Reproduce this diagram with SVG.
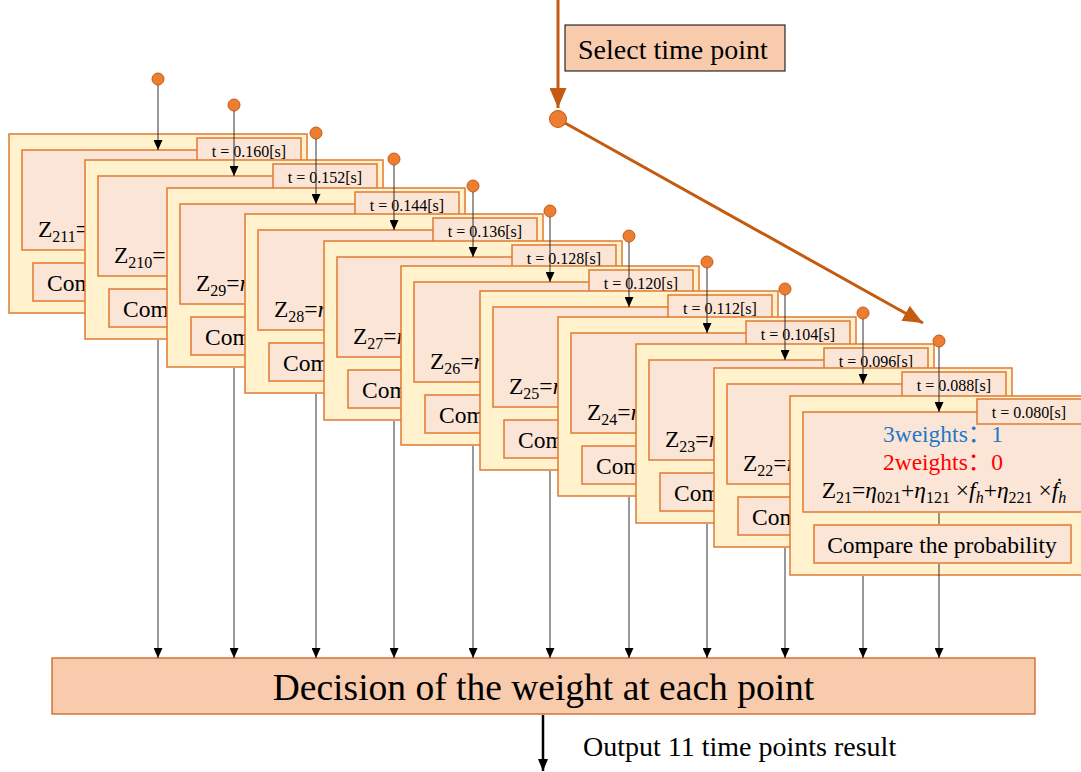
<svg xmlns="http://www.w3.org/2000/svg" width="1081" height="772" viewBox="0 0 1081 772">
<style>
.outer{fill:#FFF2CC;stroke:#E07A30;stroke-width:1.5}
.inner{fill:#FBE5D6;stroke:#E07A30;stroke-width:1.5}
.dot{fill:#ED7D31;stroke:#C55A11;stroke-width:1}
text{font-family:"Liberation Serif","Times New Roman","Noto Sans CJK SC",serif;fill:#000}
.z{font-size:23.5px}
.sub{font-size:16px}
.cmp{font-size:23.5px}
.lab{font-size:16px;text-anchor:middle}
.thin{stroke:#333;stroke-width:1;fill:none}
</style>
<defs>
<marker id="ah" viewBox="0 0 10 9" refX="10" refY="4.5" markerWidth="10" markerHeight="9" orient="auto" markerUnits="userSpaceOnUse"><path d="M0,0L10,4.5L0,9z" fill="#000"/></marker>
<marker id="ahO" viewBox="0 0 20 17" refX="20" refY="8.5" markerWidth="20" markerHeight="17" orient="auto" markerUnits="userSpaceOnUse"><path d="M0,0L20,8.5L0,17z" fill="#C55A11"/></marker>
<marker id="ahB" viewBox="0 0 12 10" refX="12" refY="5" markerWidth="12" markerHeight="10" orient="auto" markerUnits="userSpaceOnUse"><path d="M0,0L12,5L0,10z" fill="#000"/></marker>
</defs>

<g id="select">
<rect x="565" y="25" width="220" height="46" fill="#F8CBAD" stroke="#000" stroke-width="1"/>
<text x="578" y="59" font-size="28">Select time point</text>
</g>

<g id="card1">
<rect class="outer" x="9" y="134" width="298" height="179"/>
<rect class="inner" x="22" y="150" width="278" height="100"/>
<text class="z" x="38" y="237">Z<tspan class="sub" dy="5">211</tspan><tspan dy="-5">=</tspan></text>
<rect class="inner" x="33" y="263" width="258" height="38"/>
<text class="cmp" x="47" y="291">Com</text>
<rect class="inner" x="197" y="138" width="104" height="25"/>
<text class="lab" x="249" y="157">t = 0.160[s]</text>
<circle class="dot" cx="158" cy="79" r="6"/>
</g>
<g id="card2">
<rect class="outer" x="85" y="160" width="298" height="179"/>
<rect class="inner" x="98" y="176" width="278" height="100"/>
<text class="z" x="114" y="263">Z<tspan class="sub" dy="5">210</tspan><tspan dy="-5">=</tspan></text>
<rect class="inner" x="109" y="289" width="258" height="38"/>
<text class="cmp" x="123" y="317">Com</text>
<rect class="inner" x="273" y="164" width="104" height="25"/>
<text class="lab" x="325" y="183">t = 0.152[s]</text>
<circle class="dot" cx="234" cy="105" r="6"/>
</g>
<g id="card3">
<rect class="outer" x="167" y="188" width="298" height="179"/>
<rect class="inner" x="180" y="204" width="278" height="100"/>
<text class="z" x="196" y="291">Z<tspan class="sub" dy="5">29</tspan><tspan dy="-5">=</tspan><tspan font-style="italic">η</tspan></text>
<rect class="inner" x="191" y="317" width="258" height="38"/>
<text class="cmp" x="205" y="345">Com</text>
<rect class="inner" x="355" y="192" width="104" height="25"/>
<text class="lab" x="407" y="211">t = 0.144[s]</text>
<circle class="dot" cx="316" cy="133" r="6"/>
</g>
<g id="card4">
<rect class="outer" x="245" y="214" width="298" height="179"/>
<rect class="inner" x="258" y="230" width="278" height="100"/>
<text class="z" x="274" y="317">Z<tspan class="sub" dy="5">28</tspan><tspan dy="-5">=</tspan><tspan font-style="italic">η</tspan></text>
<rect class="inner" x="269" y="343" width="258" height="38"/>
<text class="cmp" x="283" y="371">Com</text>
<rect class="inner" x="433" y="218" width="104" height="25"/>
<text class="lab" x="485" y="237">t = 0.136[s]</text>
<circle class="dot" cx="394" cy="159" r="6"/>
</g>
<g id="card5">
<rect class="outer" x="324" y="241" width="298" height="179"/>
<rect class="inner" x="337" y="257" width="278" height="100"/>
<text class="z" x="353" y="344">Z<tspan class="sub" dy="5">27</tspan><tspan dy="-5">=</tspan><tspan font-style="italic">η</tspan></text>
<rect class="inner" x="348" y="370" width="258" height="38"/>
<text class="cmp" x="362" y="398">Com</text>
<rect class="inner" x="512" y="245" width="104" height="25"/>
<text class="lab" x="564" y="264">t = 0.128[s]</text>
<circle class="dot" cx="473" cy="186" r="6"/>
</g>
<g id="card6">
<rect class="outer" x="401" y="266" width="298" height="179"/>
<rect class="inner" x="414" y="282" width="278" height="100"/>
<text class="z" x="430" y="369">Z<tspan class="sub" dy="5">26</tspan><tspan dy="-5">=</tspan><tspan font-style="italic">η</tspan></text>
<rect class="inner" x="425" y="395" width="258" height="38"/>
<text class="cmp" x="439" y="423">Com</text>
<rect class="inner" x="589" y="270" width="104" height="25"/>
<text class="lab" x="641" y="289">t = 0.120[s]</text>
<circle class="dot" cx="550" cy="211" r="6"/>
</g>
<g id="card7">
<rect class="outer" x="480" y="291" width="298" height="179"/>
<rect class="inner" x="493" y="307" width="278" height="100"/>
<text class="z" x="509" y="394">Z<tspan class="sub" dy="5">25</tspan><tspan dy="-5">=</tspan><tspan font-style="italic">η</tspan></text>
<rect class="inner" x="504" y="420" width="258" height="38"/>
<text class="cmp" x="518" y="448">Com</text>
<rect class="inner" x="668" y="295" width="104" height="25"/>
<text class="lab" x="720" y="314">t = 0.112[s]</text>
<circle class="dot" cx="629" cy="236" r="6"/>
</g>
<g id="card8">
<rect class="outer" x="558" y="317" width="298" height="179"/>
<rect class="inner" x="571" y="333" width="278" height="100"/>
<text class="z" x="587" y="420">Z<tspan class="sub" dy="5">24</tspan><tspan dy="-5">=</tspan><tspan font-style="italic">η</tspan></text>
<rect class="inner" x="582" y="446" width="258" height="38"/>
<text class="cmp" x="596" y="474">Com</text>
<rect class="inner" x="746" y="321" width="104" height="25"/>
<text class="lab" x="798" y="340">t = 0.104[s]</text>
<circle class="dot" cx="707" cy="262" r="6"/>
</g>
<g id="card9">
<rect class="outer" x="636" y="344" width="298" height="179"/>
<rect class="inner" x="649" y="360" width="278" height="100"/>
<text class="z" x="665" y="447">Z<tspan class="sub" dy="5">23</tspan><tspan dy="-5">=</tspan><tspan font-style="italic">η</tspan></text>
<rect class="inner" x="660" y="473" width="258" height="38"/>
<text class="cmp" x="674" y="501">Com</text>
<rect class="inner" x="824" y="348" width="104" height="25"/>
<text class="lab" x="876" y="367">t = 0.096[s]</text>
<circle class="dot" cx="785" cy="289" r="6"/>
</g>
<g id="card10">
<rect class="outer" x="714" y="368" width="298" height="179"/>
<rect class="inner" x="727" y="384" width="278" height="100"/>
<text class="z" x="743" y="471">Z<tspan class="sub" dy="5">22</tspan><tspan dy="-5">=</tspan><tspan font-style="italic">η</tspan></text>
<rect class="inner" x="738" y="497" width="258" height="38"/>
<text class="cmp" x="752" y="525">Com</text>
<rect class="inner" x="902" y="372" width="104" height="25"/>
<text class="lab" x="954" y="391">t = 0.088[s]</text>
<circle class="dot" cx="863" cy="313" r="6"/>
</g>
<g id="card11">
<rect class="outer" x="790" y="396" width="298" height="179"/>
<rect class="inner" x="803" y="412" width="285" height="100"/>
<text x="943" y="442" font-size="23.5" text-anchor="middle" style="fill:#1F78C8">3weights：1</text>
<text x="943" y="470" font-size="23.5" text-anchor="middle" style="fill:#FF0000">2weights：0</text>
<text class="z" x="944" y="498" text-anchor="middle">Z<tspan class="sub" dy="5">21</tspan><tspan dy="-5">=</tspan><tspan font-style="italic">η</tspan><tspan class="sub" dy="5">021</tspan><tspan dy="-5">+</tspan><tspan font-style="italic">η</tspan><tspan class="sub" dy="5">121</tspan><tspan dy="-5"> ×</tspan><tspan font-style="italic">f</tspan><tspan class="sub" font-style="italic" dy="5">h</tspan><tspan dy="-5">+</tspan><tspan font-style="italic">η</tspan><tspan class="sub" dy="5">221</tspan><tspan dy="-5"> ×</tspan><tspan font-style="italic">ḟ</tspan><tspan class="sub" font-style="italic" dy="5">h</tspan></text>
<rect class="inner" x="814" y="525" width="257" height="38"/>
<text class="cmp" x="942" y="553" text-anchor="middle">Compare the probability</text>
<rect class="inner" x="977" y="399" width="105" height="25"/>
<text class="lab" x="1029" y="418">t = 0.080[s]</text>
<circle class="dot" cx="939" cy="341" r="6"/>
</g>

<g id="decision">
<rect x="52" y="658" width="983" height="56" fill="#F8CBAD" stroke="#C55A11" stroke-width="1.2"/>
<text x="543.5" y="700" font-size="37.5" text-anchor="middle">Decision of the weight at each point</text>
</g>
<g id="output-label">
<text x="583" y="756" font-size="28">Output 11 time points result</text>
</g>

<g id="connectors">
<line x1="558" y1="0" x2="558" y2="108" stroke="#C55A11" stroke-width="3" marker-end="url(#ahO)"/>
<circle cx="558" cy="119" r="8.5" fill="#ED7D31" stroke="#C55A11" stroke-width="1"/>
<line x1="565" y1="123" x2="923" y2="323" stroke="#C55A11" stroke-width="3" marker-end="url(#ahO)"/>
<line class="thin" x1="158" y1="85" x2="158" y2="150" marker-end="url(#ah)"/>
<line class="thin" x1="234" y1="111" x2="234" y2="176" marker-end="url(#ah)"/>
<line class="thin" x1="316" y1="139" x2="316" y2="204" marker-end="url(#ah)"/>
<line class="thin" x1="394" y1="165" x2="394" y2="230" marker-end="url(#ah)"/>
<line class="thin" x1="473" y1="192" x2="473" y2="257" marker-end="url(#ah)"/>
<line class="thin" x1="550" y1="217" x2="550" y2="282" marker-end="url(#ah)"/>
<line class="thin" x1="629" y1="242" x2="629" y2="307" marker-end="url(#ah)"/>
<line class="thin" x1="707" y1="268" x2="707" y2="333" marker-end="url(#ah)"/>
<line class="thin" x1="785" y1="295" x2="785" y2="360" marker-end="url(#ah)"/>
<line class="thin" x1="863" y1="319" x2="863" y2="384" marker-end="url(#ah)"/>
<line class="thin" x1="939" y1="347" x2="939" y2="412" marker-end="url(#ah)"/>
<line class="thin" x1="158" y1="340" x2="158" y2="658" marker-end="url(#ah)"/>
<line class="thin" x1="234" y1="368" x2="234" y2="658" marker-end="url(#ah)"/>
<line class="thin" x1="316" y1="394" x2="316" y2="658" marker-end="url(#ah)"/>
<line class="thin" x1="394" y1="421" x2="394" y2="658" marker-end="url(#ah)"/>
<line class="thin" x1="473" y1="446" x2="473" y2="658" marker-end="url(#ah)"/>
<line class="thin" x1="550" y1="471" x2="550" y2="658" marker-end="url(#ah)"/>
<line class="thin" x1="629" y1="497" x2="629" y2="658" marker-end="url(#ah)"/>
<line class="thin" x1="707" y1="524" x2="707" y2="658" marker-end="url(#ah)"/>
<line class="thin" x1="785" y1="548" x2="785" y2="658" marker-end="url(#ah)"/>
<line class="thin" x1="863" y1="576" x2="863" y2="658" marker-end="url(#ah)"/>
<line class="thin" x1="939" y1="513" x2="939" y2="524"/>
<line class="thin" x1="939" y1="564" x2="939" y2="658" marker-end="url(#ah)"/>
<line x1="543" y1="715" x2="543" y2="771" stroke="#000" stroke-width="2.5" marker-end="url(#ahB)"/>
</g>
</svg>
